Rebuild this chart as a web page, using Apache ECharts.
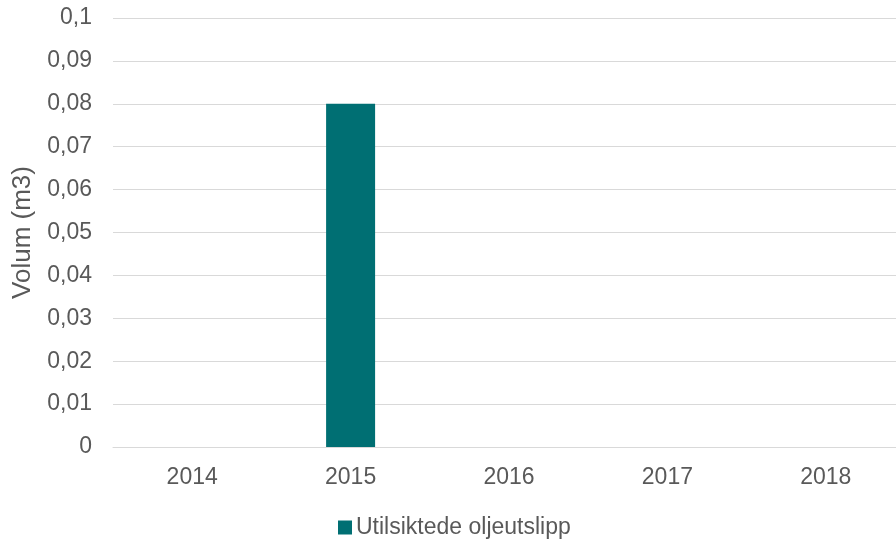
<!DOCTYPE html>
<html>
<head>
<meta charset="utf-8">
<script src="https://cdn.jsdelivr.net/npm/echarts@6/dist/echarts.min.js"></script>
<style>html,body{margin:0;padding:0;background:#fff;overflow:hidden}#c{width:906px;height:539px}</style>
</head>
<body>
<div id="c"></div>
<script>
const categories = ['2014', '2015', '2016', '2017', '2018'];
const seriesName = 'Utilsiktede oljeutslipp';
const values = [0, 0.08, 0, 0, 0];
const yAxisName = 'Volum (m3)';

const chart = echarts.init(document.getElementById('c'), null, {renderer: 'canvas'});
const font = '"Liberation Sans", Arial, sans-serif';
chart.setOption({
  animation: false,
  backgroundColor: '#ffffff',
  textStyle: {fontFamily: font},
  grid: {left: 113, right: 1, top: 18, height: 429, containLabel: false},
  legend: {
    top: 511, left: 333,
    itemWidth: 14, itemHeight: 14, itemGap: 8,
    icon: 'rect',
    textStyle: {color: '#595959', fontSize: 23, fontFamily: font, padding: [0, 0, 0, -1]},
    data: [seriesName]
  },
  xAxis: {
    type: 'category', data: categories,
    axisLine: {lineStyle: {color: '#d9d9d9', width: 1}},
    axisTick: {show: false},
    axisLabel: {color: '#595959', fontSize: 23, margin: 19, fontFamily: font}
  },
  yAxis: {
    type: 'value', min: 0, max: 0.1, interval: 0.01,
    name: yAxisName, nameLocation: 'middle', nameGap: 77, nameRotate: 90,
    nameTextStyle: {color: '#595959', fontSize: 26, fontFamily: font},
    axisLine: {show: false}, axisTick: {show: false},
    splitLine: {lineStyle: {color: '#d9d9d9', width: 1}},
    axisLabel: {
      color: '#595959', fontSize: 23, margin: 21, fontFamily: font,
      formatter: v => (Math.round(v * 100) / 100).toString().replace('.', ',')
    }
  },
  series: [{
    name: seriesName, type: 'bar', data: values,
    barWidth: 49,
    itemStyle: {color: '#006f73'}
  }]
});
</script>
</body>
</html>
